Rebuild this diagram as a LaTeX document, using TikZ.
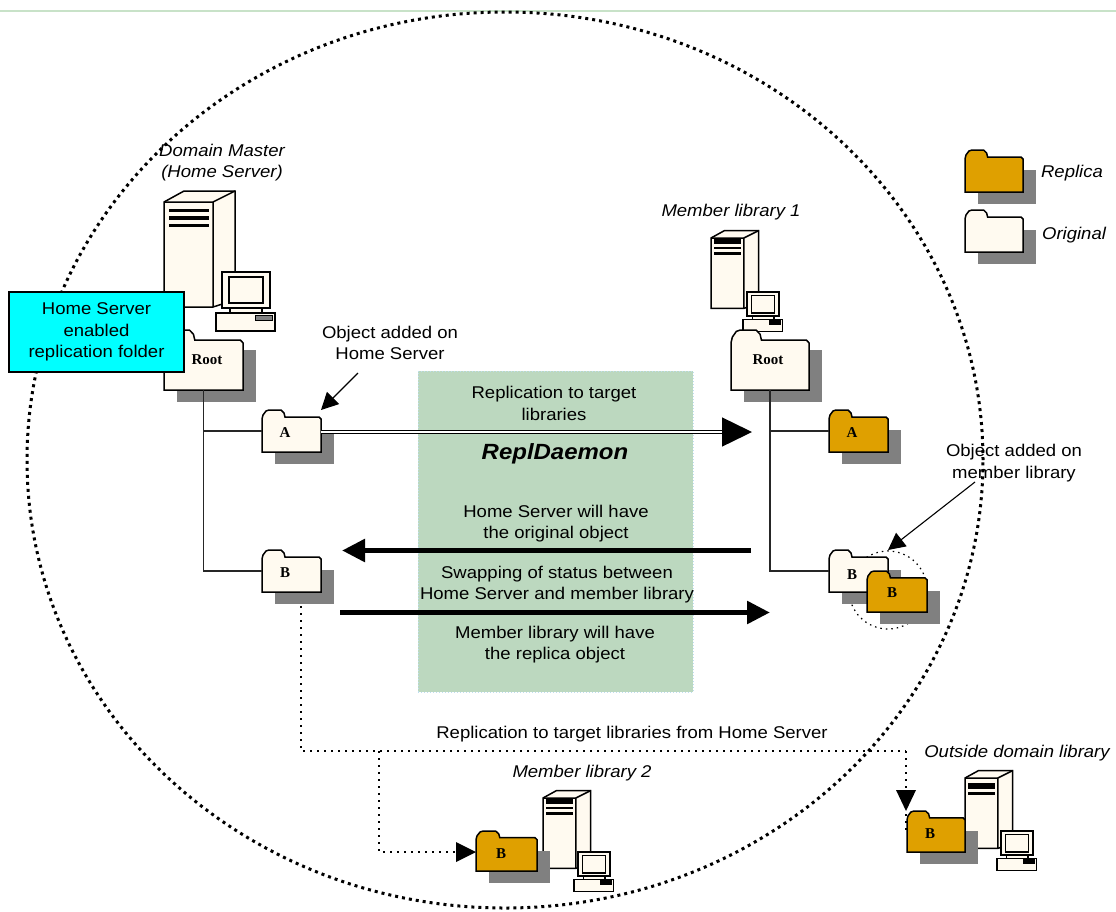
\documentclass[tikz,border=0pt]{standalone}
\usepackage{fontspec}
\setmainfont[FakeStretch=1.09]{Liberation Sans}
\newfontfamily\serfont{Liberation Serif}
\usetikzlibrary{arrows.meta,shapes.geometric}
\definecolor{cream}{RGB}{255,250,240}
\definecolor{amber}{RGB}{223,160,0}
\definecolor{shadowgray}{RGB}{128,128,128}
\definecolor{panelgreen}{RGB}{188,216,191}
\definecolor{paneledge}{RGB}{190,222,240}
\definecolor{topline}{RGB}{200,226,200}
\definecolor{calloutcyan}{RGB}{0,255,255}
\tikzset{
  outl/.style={draw=black,line width=1.5pt,line join=miter},
  lbl/.style={inner sep=0pt,align=center,font=\fontsize{17}{21.5}\selectfont},
  ital/.style={inner sep=0pt,align=center,font=\fontsize{17}{21}\selectfont\itshape},
  foldertag/.style={inner sep=0pt,font=\serfont\bfseries\fontsize{15}{18}\selectfont},
  link/.style={draw=black!85,line width=1.6pt},
  thinarrow/.style={draw=black,line width=1.1pt,-{Triangle[length=17pt,width=17pt]}},
  heavyarrow/.style={draw=black,line width=5.5pt,-{Triangle[length=23pt,width=22pt]}},
  dotlink/.style={draw=black,line width=2pt,dash pattern=on 2pt off 5pt},
}
\newcommand{\folderbox}[6]{% name,x,y,w,h,fill
  \fill[shadowgray] (#2+13,#3+20) rectangle (#2+#4+13,#3+#5+12);
  \begin{scope}[shift={(#2,#3)},xscale=#4/59,yscale=#5/42]
    \draw[outl,fill=#6] (0,42) -- (0,9) -- (1,5) -- (4,1) -- (7,0) -- (19,0) -- (22,3) -- (23,7) -- (57,7) -- (59,9) -- (59,42) -- cycle;
  \end{scope}
  \node[inner sep=0pt,outer sep=0pt,minimum width=#4pt,minimum height=#5pt,anchor=north west] (#1) at (#2,#3) {};
}
\newcommand{\towerbox}[4]{% x,y,scale,bars
  \begin{scope}[shift={(#1,#2)},scale=#3]
    \draw[outl,fill=cream] (0,0) -- (20,-11) -- (71,-11) -- (71,98) -- (49,105) -- (0,105) -- cycle;
    \draw[outl] (0,0) -- (49,0) -- (71,-11) (49,0) -- (49,105);
    \foreach \ya/\yb in {#4} \fill[black] (5,\ya) rectangle (45,\yb);
  \end{scope}
}
\newcommand{\monitorbox}[4]{% x,y,scale,drive colour
  \begin{scope}[shift={(#1,#2)},scale=#3]
    \draw[outl,fill=cream] (8,36) rectangle (40,41);
    \draw[outl,fill=cream] (0,0) rectangle (48,36);
    \draw[outl,fill=cream] (7,5) rectangle (41,31);
    \draw[outl,fill=cream] (-6,41) rectangle (53,59);
    \fill[#4,draw=black,line width=1pt] (33,43) rectangle (50,48);
  \end{scope}
}
\begin{document}
\begin{tikzpicture}[x=1pt,y=-1pt]
\useasboundingbox (0,0) rectangle (1116,911);
\fill[white] (0,0) rectangle (1116,911);
\draw[topline,line width=1.2pt] (0,11) -- (1116,11);

% green panel
\node[inner sep=0pt,outer sep=0pt,fill=panelgreen,draw=paneledge,line width=1pt,dotted,minimum width=275pt,minimum height=321pt,anchor=north west] (panel) at (418,371) {};

% domain circle
\node[ellipse,draw=black,line width=3pt,dash pattern=on 3pt off 4pt,inner sep=0pt,minimum width=956pt,minimum height=896pt] (domain) at (505,460) {};

% small dotted circle
\node[circle,draw=black,line width=1.2pt,dash pattern=on 1.5pt off 4pt,inner sep=0pt,minimum size=78pt] (swapring) at (888,590) {};

% servers
\towerbox{164}{202}{1}{7/10,14/18,22/25}
\monitorbox{222}{272}{1}{shadowgray}
\towerbox{711}{238}{0.67}{2/9,13/17,21/25}
\monitorbox{747}{292}{0.67}{black}
\towerbox{543}{798}{0.67}{2/9,13/17,21/25}
\monitorbox{578}{852}{0.67}{black}
\towerbox{965}{778}{0.67}{7/16,21/25}
\monitorbox{1001}{831}{0.67}{black}

% folders
\folderbox{legendR}{965}{150}{58}{42}{amber}
\folderbox{legendO}{965}{210}{58}{42}{cream}
\folderbox{rootL}{164}{330}{79}{60}{cream}
\folderbox{rootR}{731}{330}{78}{60}{cream}
\folderbox{aL}{262}{410}{59}{42}{cream}
\folderbox{bL}{262}{550}{59}{42}{cream}
\folderbox{aR}{829}{410}{59}{42}{amber}
\folderbox{bR}{829}{550}{59}{42}{cream}
\folderbox{bRx}{867}{571}{60}{41}{amber}
\folderbox{bM}{476}{831}{61}{40}{amber}
\folderbox{bO}{907}{811}{58}{41}{amber}

% folder labels
\node[foldertag] (tRootL) at (207,360) {Root};
\node[foldertag] (tRootR) at (768,360) {Root};
\node[foldertag] (tAL) at (285,433) {A};
\node[foldertag] (tBL) at (285,573) {B};
\node[foldertag] (tAR) at (852,433) {A};
\node[foldertag] (tBR) at (852,575) {B};
\node[foldertag] (tBRx) at (892,593) {B};
\node[foldertag] (tBM) at (501,854) {B};
\node[foldertag] (tBO) at (930,834) {B};

% tree connectors
\draw[link] (rootL.south) -- (rootL.south |- bL.west) -- (bL.west);
\draw[link] (rootL.south |- aL.west) -- (aL.west);
\draw[link] (rootR.south) -- (rootR.south |- bR.west) -- (bR.west);
\draw[link] (rootR.south |- aR.west) -- (aR.west);

% cyan call-out
\node[draw=black,line width=1.5pt,fill=calloutcyan,inner sep=0pt,minimum width=175pt,minimum height=80pt,lbl] (homebox) at (96.5,332) {Home Server\\enabled\\replication folder};

% arrows
\coordinate (objHomeFrom) at (358,373);
\coordinate (objMemberFrom) at (975,482);
\draw[thinarrow] (objHomeFrom) -- (aL.north east);
\draw[thinarrow] (objMemberFrom) -- (bR.north east);

\coordinate (replEnd) at (752,432);
\draw[draw=black,line width=1.4pt,double=white,double distance=2pt,-{Triangle[length=30pt,width=29pt]}] (aL.east |- replEnd) -- (replEnd);

\coordinate (heavyAfrom) at (751,550.5);
\coordinate (heavyAto) at (342,550.5);
\coordinate (heavyBfrom) at (340,612.5);
\coordinate (heavyBto) at (770,612.5);
\draw[heavyarrow] (heavyAfrom) -- (heavyAto);
\draw[heavyarrow] (heavyBfrom) -- (heavyBto);

% dotted routes
\coordinate (dotStart) at (301,606);
\coordinate (dotCorner) at (301,751);
\coordinate (dotJunction) at (379,751);
\coordinate (dotRight) at (906,751);
\coordinate (dotDown) at (379,852);
\draw[dotlink] (dotStart) -- (dotCorner) -- (dotRight);
\draw[dotlink] (dotRight) -- ([yshift=-22pt]bO.north west -| dotRight);
\draw[dotlink] (dotJunction) -- (dotDown) -- (456,852);
\fill[black] (bO.north west -| dotRight) -- ++(-10,-21) -- ++(20,0) -- cycle;
\fill[black] (bM.west |- dotDown) -- ++(-20,-10) -- ++(0,20) -- cycle;

% texts
\node[ital] (tMaster) at (222,163) {Domain Master\\(Home Server)};
\node[ital] (tM1) at (731,212) {Member library 1};
\node[ital] (tM2) at (582,773) {Member library 2};
\node[ital] (tOut) at (1017,753) {Outside domain library};
\node[ital] (tLegR) at (1072,173) {Replica};
\node[ital] (tLegO) at (1074,235) {Original};
\node[lbl] (tObjH) at (390,343) {Object added on\\Home Server};
\node[lbl] (tObjM) at (1014,463) {Object added on\\member library};
\node[lbl] (tRepl) at (554,403.5) {Replication to target\\libraries};
\node[inner sep=0pt,font=\bfseries\itshape\fontsize{22}{26}\selectfont] (tDaemon) at (555,454) {ReplDaemon};
\node[lbl] (tHS) at (556,523.5) {Home Server will have\\the original object};
\node[lbl] (tSwap) at (557,584.5) {Swapping of status between\\Home Server and member library};
\node[lbl] (tML) at (555,644.5) {Member library will have\\the replica object};
\node[lbl] (tFrom) at (632,734) {Replication to target libraries from Home Server};
\end{tikzpicture}
\end{document}
